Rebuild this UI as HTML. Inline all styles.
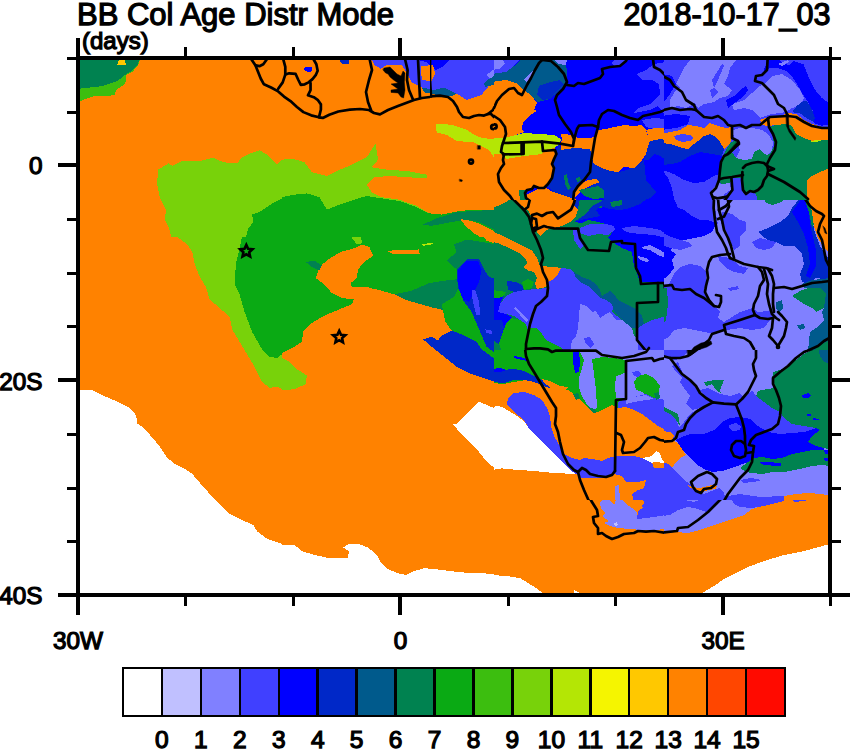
<!DOCTYPE html>
<html><head><meta charset="utf-8"><title>BB Col Age Distr Mode</title>
<style>
html,body{margin:0;padding:0;background:#fff;}
body{width:850px;height:750px;overflow:hidden;position:relative;font-family:"Liberation Sans",sans-serif;color:#000;}
svg{position:absolute;left:0;top:0;}
text{font-family:"Liberation Sans",sans-serif;fill:#000;stroke:#000;stroke-width:1.25px;}
</style></head><body>
<svg width="850" height="750" viewBox="0 0 850 750">
<defs>
<clipPath id="clip"><rect x="78" y="58" width="752" height="537"/></clipPath>
<clipPath id="cA"><rect x="70" y="50" width="212" height="187"/></clipPath>
<clipPath id="cB"><rect x="282" y="50" width="212" height="187"/></clipPath>
<clipPath id="cLB1"><rect x="350" y="50" width="80" height="150"/></clipPath>
<clipPath id="cLB2"><rect x="430" y="50" width="64" height="150"/></clipPath>
<clipPath id="cLA"><rect x="240" y="50" width="110" height="150"/></clipPath>
<clipPath id="cC1"><rect x="494" y="50" width="170" height="150"/></clipPath>
<clipPath id="cC2"><rect x="664" y="50" width="186" height="150"/></clipPath>
<clipPath id="cE"><rect x="70" y="237" width="212" height="187"/></clipPath>
<clipPath id="cF"><rect x="282" y="237" width="212" height="187"/></clipPath>
<clipPath id="cG1"><rect x="494" y="200" width="170" height="150"/></clipPath>
<clipPath id="cG2"><rect x="664" y="200" width="186" height="150"/></clipPath>
<clipPath id="cI"><rect x="70" y="424" width="212" height="187"/></clipPath>
<clipPath id="cJ"><rect x="282" y="424" width="212" height="187"/></clipPath>
<clipPath id="cK1"><rect x="494" y="350" width="170" height="150"/></clipPath>
<clipPath id="cLN"><rect x="494" y="340" width="170" height="22"/></clipPath>
<clipPath id="cK2"><rect x="664" y="350" width="186" height="150"/></clipPath>
<clipPath id="cL1"><rect x="494" y="500" width="170" height="111"/></clipPath>
<clipPath id="cL2"><rect x="664" y="500" width="186" height="111"/></clipPath>
</defs>
<rect x="0" y="0" width="850" height="750" fill="#fff"/>
<g clip-path="url(#clip)">
<rect x="78" y="58" width="752" height="537" fill="#ff8200"/>
<g clip-path="url(#cA)" shape-rendering="crispEdges"><g transform="translate(70,50) scale(0.24941)">
<polygon fill="#3cbe0f" points="40,40 280,40 272,62 250,88 225,100 222,135 185,160 180,180 150,185 95,185 40,205 30,205 30,40"/>
<polygon fill="#008250" points="30,40 278,40 270,60 245,85 220,100 190,125 130,145 40,155 30,155"/>
<polygon fill="#ffc800" points="189,62 197,38 218,38 226,62"/>
<polygon fill="#78d20a" points="352,480 395,455 410,465 450,445 520,445 575,432 600,445 640,455 670,455 690,430 720,415 760,402 790,420 810,440 830,460 850,440 860,440 860,760 410,760 395,710 380,680 385,640 360,590 350,540"/>
<polygon fill="#0aaa14" points="860,590 850,595 820,610 790,630 760,650 730,660 735,690 715,715 705,750 705,760 860,760"/>
</g></g>
<g clip-path="url(#cB)" shape-rendering="crispEdges"><g transform="translate(282,50) scale(0.24941)">
<polygon fill="#78d20a" points="-10,440 0,440 40,435 90,450 120,490 180,505 230,480 270,465 300,450 340,430 375,375 385,440 360,470 420,480 500,485 580,500 580,515 500,510 430,505 370,510 340,540 360,570 400,590 470,600 540,625 590,655 590,760 -10,760"/>
<polygon fill="#0aaa14" points="-10,590 0,590 50,580 100,575 150,590 180,640 230,620 290,600 340,585 400,595 470,605 540,630 590,655 640,660 700,648 760,640 860,640 860,760 -10,760"/>
<polygon fill="#008250" points="565,700 620,675 700,650 780,645 860,640 860,725 850,720 790,690 740,680 680,690 600,705"/>
<polygon fill="#ff8200" points="715,678 760,685 800,700 860,732 860,760 810,760 770,735 735,705"/>
<polygon fill="#4040ff" points="362,40 860,40 860,120 845,125 800,180 740,200 700,175 650,150 610,160 560,150 520,130 500,90 480,60 420,60 395,75 370,60"/>
<polygon fill="#0000ff" points="537,38 673,38 649,64 617,80 601,68 577,48"/>
<polygon fill="#ff8200" points="558,65 605,60 615,95 600,125 560,120"/>
<polygon fill="#005a8c" points="560,150 610,160 650,150 700,175 680,185 620,180 570,170"/>
<polygon fill="#8080ff" points="820,100 860,70 860,120 845,125"/>
<polygon fill="#005a8c" points="809,136 825,120 860,98 860,136 817,148"/>
<polygon fill="#b4e605" points="615,295 680,300 740,320 780,345 800,352 860,360 860,410 850,430 830,400 800,385 770,370 700,365 660,340 620,330"/>
</g></g>
<g clip-path="url(#cLB1)" shape-rendering="crispEdges"><g transform="translate(260,50) scale(0.20000)">
</g></g>
<g clip-path="url(#cLB2)" shape-rendering="crispEdges"><g transform="translate(400,50) scale(0.20000)">
</g></g>
<g clip-path="url(#cLA)" shape-rendering="crispEdges"><g transform="translate(240,50) scale(0.12942)">
<polygon fill="#0000ff" points="495,138 520,130 555,135 555,160 540,170 510,165 497,155"/>
<polygon fill="#0028c8" points="775,78 840,78 840,108 800,112 778,100"/>
</g></g>
<g clip-path="url(#cC1)" shape-rendering="crispEdges"><g transform="translate(494,50) scale(0.20000)">
<rect x="-10" y="-10" width="900" height="800" fill="#0000ff"/>
<polygon fill="#4040ff" points="-10,45 130,45 100,80 60,110 -10,120"/>
<polygon fill="#8080ff" points="-10,50 45,50 55,70 25,95 -10,100"/>
<polygon fill="#005a8c" points="60,110 100,80 130,50 230,50 300,50 360,50 365,130 355,170 330,195 300,225 280,245 240,255 215,260 190,230 150,200 110,165 60,150 -10,160 -10,120"/>
<polygon fill="#8080ff" points="150,150 190,105 200,115 165,160"/>
<polygon fill="#8080ff" points="300,50 365,50 360,75 320,70"/>
<polygon fill="#0028c8" points="225,180 280,160 330,150 350,175 320,200 300,225 280,245 240,250 215,225"/>
<polygon fill="#ff8200" points="-10,160 60,150 110,165 150,200 190,230 215,265 200,300 215,305 180,325 160,350 145,360 140,395 150,410 110,425 60,440 -10,440"/>
<polygon fill="#4040ff" points="600,50 660,50 640,75 600,80 585,65"/>
<polygon fill="#4040ff" points="715,120 760,100 800,70 860,60 860,330 820,280 780,300 700,315 720,290 780,270 830,220 825,170 790,150 740,150"/>
<polygon fill="#4040ff" points="740,350 800,340 860,345 860,410 800,395 760,385"/>
<polygon fill="#b4e605" points="-10,438 60,438 110,425 150,415 300,425 335,445 330,470 300,490 250,500 240,520 150,530 60,545 40,520 -10,520"/>
<polygon fill="#ff8200" points="-10,520 40,520 60,545 150,530 240,520 250,500 300,490 312,500 305,540 290,570 300,600 290,640 260,680 230,690 200,685 160,700 150,720 150,760 -10,760"/>
<polygon fill="#0028c8" points="312,500 330,470 335,500 400,490 480,495 490,540 480,600 470,630 430,670 400,700 390,760 300,760 290,700 260,680 290,640 300,600 290,570 305,540"/>
<polygon fill="#0028c8" points="780,455 800,445 860,440 860,550 830,530 800,520 770,550 750,550 765,500"/>
<polygon fill="#0028c8" points="500,570 540,590 580,605 620,610 650,605 710,580 750,550 755,600 760,650 810,710 780,740 730,760 560,760 520,720 480,700 470,630 480,600 490,540"/>
<polygon fill="#ff8200" points="335,420 400,425 420,440 480,440 510,430 520,400 560,395 600,385 650,375 700,380 740,375 760,400 770,430 780,455 770,480 760,520 740,550 720,570 700,590 650,585 620,610 580,605 540,590 500,570 490,540 480,495 400,490 335,500 335,470 340,445"/>
<polygon fill="#ff8200" points="760,400 800,392 860,390 860,450 830,445 780,455"/>
<polygon fill="#ff8200" points="400,700 430,670 470,650 510,645 530,660 500,670 470,685 440,700 410,730 400,760 390,760"/>
<polygon fill="#ff8200" points="162,723 212,698 262,692 299,711 374,736 411,748 411,760 150,760"/>
<polygon fill="#008250" points="350,625 365,620 370,660 385,690 370,700 355,670"/>
<polygon fill="#008250" points="410,640 430,635 435,655 415,660"/>
<polygon fill="#008250" points="420,700 470,690 520,680 550,700 550,740 500,745 450,730"/>
<polygon fill="#008250" points="125,700 160,700 165,760 130,760"/>
</g></g>
<g clip-path="url(#cC2)" shape-rendering="crispEdges"><g transform="translate(664,50) scale(0.20000)">
<rect x="-10" y="-10" width="900" height="800" fill="#4040ff"/>
<polygon fill="#0000ff" points="-10,120 40,130 60,170 30,220 0,260 -10,260"/>
<polygon fill="#8080ff" points="130,50 360,50 330,90 320,130 300,170 340,200 320,230 280,240 250,260 200,270 170,290 150,260 120,230 90,200 60,170 80,130 100,90"/>
<polygon fill="#8080ff" points="30,250 60,200 100,180 150,200 150,270 110,290 70,280 30,290"/>
<polygon fill="#4040ff" points="240,150 290,70 300,80 270,150 250,190"/>
<polygon fill="#4040ff" points="230,200 250,190 270,210 240,240"/>
<polygon fill="#8080ff" points="340,270 400,250 440,215 470,185 500,170 520,150 540,130 590,120 640,150 680,200 700,240 680,280 640,290 610,310 540,320 480,340 440,300 400,290 350,300"/>
<polygon fill="#0000ff" points="310,250 350,230 380,200 410,180 420,200 400,230 360,260 320,290"/>
<polygon fill="#0000ff" points="521,45 563,45 627,78 648,56 697,71 725,141 754,198 789,240 830,268 830,374 789,378 754,367 740,346 747,311 725,268 697,226 669,177 641,134 612,106 563,88 524,92 507,113 499,99"/>
<polygon fill="#0028c8" points="662,282 697,254 715,258 740,297 754,339 747,360 711,339 683,318 641,311"/>
<polygon fill="#8080ff" points="570,70 620,50 625,60 590,80"/>
<polygon fill="#0000ff" points="-10,330 60,320 130,330 120,370 60,390 -10,400"/>
<polygon fill="#ff8200" points="-10,420 30,410 80,400 120,375 160,380 200,390 230,365 270,380 310,390 340,385 340,440 330,465 300,495 280,460 250,430 230,420 200,430 170,455 150,470 120,495 90,490 60,480 30,470 -10,465"/>
<polygon fill="#4040ff" points="50,430 90,420 130,425 150,440 130,455 90,460 60,450"/>
<polygon fill="#0028c8" points="-10,465 30,470 60,480 90,490 120,495 150,470 170,455 200,430 230,420 250,430 280,460 300,495 290,530 240,520 180,510 130,530 80,560 40,570 -10,575"/>
<polygon fill="#0000ff" points="-10,575 40,570 80,560 130,530 180,510 240,520 290,530 280,570 275,620 250,630 200,660 150,665 100,650 50,620 -10,600"/>
<polygon fill="#0000ff" points="-10,600 20,640 40,690 50,740 55,760 -10,760"/>
<polygon fill="#ff8200" points="480,350 510,340 560,340 620,315 660,320 700,350 740,370 790,385 830,395 830,450 790,450 740,455 700,440 660,420 640,380 610,370 560,375 520,380 490,375"/>
<polygon fill="#008250" points="330,465 350,455 375,460 360,490 340,510 360,540 400,550 440,545 450,510 480,495 500,520 530,520 550,480 545,430 525,385 560,375 610,370 640,380 660,420 700,440 740,455 830,450 830,590 780,610 740,630 715,650 715,760 470,760 460,720 430,710 400,720 390,690 385,640 340,640 330,665 290,670 270,660 280,600 290,540 310,500"/>
<polygon fill="#8080ff" points="345,400 400,385 440,390 490,400 520,420 545,460 540,500 520,525 500,520 480,495 450,510 440,545 400,550 360,540 380,500 370,470 350,450"/>
<polygon fill="#ff8200" points="715,650 740,630 780,610 830,590 830,760 715,760"/>
<polygon fill="#b4e605" points="730,455 780,448 785,455 740,462"/>
<polygon fill="#8080ff" points="240,700 270,665 290,670 330,665 335,700 300,720 290,760 240,760"/>
</g></g>
<g clip-path="url(#cE)" shape-rendering="crispEdges"><g transform="translate(70,237) scale(0.24941)">
<polygon fill="#78d20a" points="430,-10 430,0 470,30 490,60 500,110 520,160 545,200 560,250 600,285 640,320 650,370 680,420 710,470 740,520 770,580 800,605 830,600 850,610 860,610 860,-10"/>
<polygon fill="#0aaa14" points="690,-10 690,0 665,110 660,190 680,230 700,300 730,380 770,450 800,480 830,485 850,470 860,470 860,-10"/>
<polygon fill="#ffffff" points="30,612 90,615 130,635 190,660 240,685 265,715 270,750 270,760 30,760"/>
</g></g>
<g clip-path="url(#cF)" shape-rendering="crispEdges"><g transform="translate(282,237) scale(0.24941)">
<polygon fill="#0aaa14" points="-10,-10 860,-10 860,490 850,490 800,450 780,420 730,395 680,375 655,340 645,290 600,280 540,265 490,250 450,230 380,210 345,215 290,245 280,270 230,290 170,315 120,345 85,380 80,420 50,440 0,465 -10,468"/>
<polygon fill="#ff8200" points="290,250 240,245 200,225 170,190 135,165 150,120 185,90 235,60 290,45 320,30 350,40 365,75 330,100 305,130 300,165 275,185 280,200 340,200 380,212 345,220"/>
<polygon fill="#008250" points="450,230 520,215 590,185 650,175 700,170 710,200 690,240 640,270 645,292 600,282 540,265 490,250"/>
<polygon fill="#008250" points="690,30 740,10 800,20 860,30 860,170 830,160 810,130 790,90 740,90 700,130 660,95 700,60"/>
<polygon fill="#008250" points="95,100 130,95 160,115 150,135 120,120"/>
<polygon fill="#0028c8" points="700,130 740,90 790,90 810,130 830,160 860,170 860,470 820,440 790,370 760,300 730,260 705,200"/>
<polygon fill="#0000ff" points="705,135 740,95 785,95 800,130 790,180 770,220 750,260 725,250 708,200"/>
<polygon fill="#4040ff" points="760,215 775,212 790,260 795,310 780,315 765,260"/>
<polygon fill="#4040ff" points="815,370 840,375 845,390 820,385"/>
<polygon fill="#0028c8" points="565,410 600,400 625,415 640,395 680,375 730,395 780,420 800,450 860,495 860,585 850,580 760,550 700,520 650,480 600,440"/>
<polygon fill="#ff8200" points="800,-10 860,-10 860,28 850,25 820,15"/>
<polygon fill="#ff8200" points="420,55 550,50 552,70 450,70"/>
<polygon fill="#b4e605" points="560,30 605,22 607,28 565,36"/>
<polygon fill="#78d20a" points="-10,485 0,485 30,500 60,530 100,555 95,590 50,610 0,615 -10,615"/>
<polygon fill="#78d20a" points="270,-10 312,-10 322,25 300,30"/>
<polygon fill="#ffffff" points="700,760 700,750 760,690 790,660 860,690 860,760"/>
</g></g>
<g clip-path="url(#cG1)" shape-rendering="crispEdges"><g transform="translate(494,200) scale(0.20000)">
<rect x="-10" y="-10" width="900" height="800" fill="#008250"/>
<polygon fill="#ff8200" points="90,-10 400,-10 400,30 420,45 410,80 380,110 340,130 300,140 260,150 230,180 215,160 200,140 190,110 185,80 170,50 140,30 110,10"/>
<polygon fill="#ff8200" points="-10,158 30,172 80,197 140,228 190,253 215,290 230,330 300,335 335,340 320,370 300,395 270,410 260,435 215,445 205,420 215,390 200,360 170,352 148,338 165,315 160,295 130,268 70,238 20,215 -10,210"/>
<polygon fill="#ff8200" points="-10,-10 90,-10 60,10 30,25 -10,40"/>
<polygon fill="#4040ff" points="335,340 380,345 400,360 450,390 480,400 510,420 530,450 540,480 580,455 600,470 600,520 590,560 640,600 690,640 700,680 720,700 720,760 150,760 165,690 180,640 190,600 200,550 220,510 260,480 265,440 270,410 300,395 320,370"/>
<polygon fill="#4040ff" points="265,440 215,445 150,450 100,460 60,480 30,520 20,560 60,570 100,580 130,600 160,620 170,650 180,640 190,600 200,550 220,510 260,480"/>
<polygon fill="#8080ff" points="430,520 460,530 490,560 510,555 530,590 560,570 580,560 610,600 640,600 690,640 700,680 720,700 720,760 380,760 390,700 410,680 420,640 425,580"/>
<polygon fill="#4040ff" points="450,690 480,685 500,720 480,740 460,720"/>
<polygon fill="#005a8c" points="400,360 450,390 480,400 510,420 530,450 540,480 580,455 600,470 620,500 660,520 700,540 740,580 750,620 720,640 690,640 640,600 600,560 590,520 560,500 530,490 500,460 470,430 430,410 410,390"/>
<polygon fill="#4040ff" points="720,640 750,620 790,600 830,590 860,580 860,760 720,760"/>
<polygon fill="#0000ff" points="500,60 520,40 600,30 640,-10 860,-10 860,420 840,410 730,410 720,380 700,330 690,260 640,240 600,215 570,190 600,150 560,120 520,110 470,100 440,115 400,110 420,90 460,70"/>
<polygon fill="#4040ff" points="430,140 480,120 560,120 600,130 605,150 570,175 520,170 470,180 430,165"/>
<polygon fill="#4040ff" points="640,140 700,130 780,140 830,150 860,170 860,190 800,175 740,170 680,165 650,155"/>
<polygon fill="#8080ff" points="740,235 780,225 830,250 860,270 860,290 820,275 780,250 745,245"/>
<polygon fill="#8080ff" points="720,280 760,290 780,305 760,310 725,295"/>
<polygon fill="#0028c8" points="400,-10 770,-10 730,20 680,40 630,50 580,45 530,30 510,50 530,80 480,90 430,100 400,110 380,110 410,80 420,45 400,30"/>
<polygon fill="#008250" points="430,-10 560,-10 530,10 490,30 460,70 430,90 400,110 380,110 410,80 420,45"/>
<polygon fill="#008250" points="580,10 640,0 640,25 590,35"/>
<polygon fill="#4040ff" points="395,150 420,150 430,190 450,230 430,245 400,200"/>
<polygon fill="#0aaa14" points="40,670 60,620 80,590 130,600 160,620 170,650 165,690 150,760 40,760 25,720"/>
<polygon fill="#0aaa14" points="165,690 180,640 215,640 240,670 260,700 300,720 340,740 350,760 150,760"/>
<polygon fill="#0aaa14" points="140,410 170,395 200,410 190,440 150,450"/>
<polygon fill="#0aaa14" points="-10,450 30,455 60,460 50,480 20,490 -10,490"/>
<polygon fill="#0028c8" points="65,405 110,410 140,425 150,450 100,460 70,450"/>
<polygon fill="#0000ff" points="-10,490 20,490 50,480 30,520 20,560 60,570 90,585 60,620 40,670 25,720 -10,700"/>
<polygon fill="#0028c8" points="-10,600 40,600 50,640 40,670 25,720 -10,700"/>
<polygon fill="#8080ff" points="100,540 110,535 170,600 160,610"/>
</g></g>
<g clip-path="url(#cG2)" shape-rendering="crispEdges"><g transform="translate(664,200) scale(0.20000)">
<rect x="-10" y="-10" width="900" height="800" fill="#8080ff"/>
<polygon fill="#0000ff" points="-10,-10 250,-10 255,60 260,120 240,160 200,180 150,190 100,200 60,230 30,250 -10,250"/>
<polygon fill="#4040ff" points="50,-10 230,-10 250,10 260,70 270,120 220,100 180,100 140,80 100,50 70,40"/>
<polygon fill="#4040ff" points="-10,165 50,190 120,210 140,230 80,250 30,240 -10,225"/>
<polygon fill="#4040ff" points="-10,440 25,420 50,370 80,335 130,320 180,330 210,360 210,420 200,450 230,500 260,540 280,560 270,590 300,610 380,560 440,540 470,560 520,560 530,600 500,640 440,650 380,640 310,650 260,670 200,660 150,650 100,640 50,650 20,690 -10,700"/>
<polygon fill="#0000ff" points="-10,250 30,250 60,270 40,300 50,340 20,380 -10,400"/>
<polygon fill="#4040ff" points="270,280 330,290 380,330 420,340 400,370 350,360 310,340 280,310"/>
<polygon fill="#4040ff" points="320,440 370,430 375,445 330,455"/>
<polygon fill="#4040ff" points="290,60 340,70 380,100 410,110 410,150 380,180 380,230 350,250 330,200 300,150 280,100"/>
<polygon fill="#0028c8" points="470,160 520,140 580,110 620,80 640,40 680,-10 720,-10 740,60 750,150 780,230 820,290 830,320 830,400 760,390 720,420 690,410 680,370 700,320 690,270 650,230 600,230 560,210 520,200 490,180"/>
<polygon fill="#0000ff" points="640,60 690,-10 720,20 730,120 760,250 760,330 730,390 710,380 730,320 720,240 700,170 670,110"/>
<polygon fill="#4040ff" points="440,210 480,190 520,200 560,210 540,240 500,250 460,240"/>
<polygon fill="#008250" points="500,-10 600,-10 590,10 540,25 510,15"/>
<polygon fill="#008250" points="700,-10 730,-10 740,60 750,120 740,140 725,60"/>
<polygon fill="#ff8200" points="720,-10 830,-10 830,270 800,240 770,190 750,130 740,60"/>
<polygon fill="#005a8c" points="690,420 740,400 830,390 830,760 720,760 725,700 730,660 760,640 800,600 790,560 800,540 810,470 780,440 740,440 700,440"/>
<polygon fill="#008250" points="640,480 680,455 720,440 780,440 810,470 800,540 760,560 740,540 700,520 670,500"/>
<polygon fill="#005a8c" points="560,510 590,500 595,540 575,560 560,540"/>
<polygon fill="#005a8c" points="665,625 700,620 705,640 680,650"/>
<polygon fill="#008250" points="-10,440 15,440 20,520 10,600 -10,620"/>
<polygon fill="#008250" points="830,700 800,715 770,735 740,760 830,760"/>
<polygon fill="#4040ff" points="480,560 540,550 550,590 520,600 480,590"/>
</g></g>
<g clip-path="url(#cI)" shape-rendering="crispEdges"><g transform="translate(70,424) scale(0.24941)">
<polygon fill="#ffffff" points="30,-10 275,-10 275,0 300,20 330,55 360,90 390,135 420,160 460,180 490,200 520,235 560,280 600,320 640,360 690,385 735,405 750,430 790,460 850,480 860,482 860,760 30,760"/>
</g></g>
<g clip-path="url(#cJ)" shape-rendering="crispEdges"><g transform="translate(282,424) scale(0.24941)">
<polygon fill="#ffffff" points="-10,485 50,485 80,510 130,525 190,538 265,538 268,510 245,495 265,482 310,482 345,495 380,525 395,555 420,580 470,600 500,605 530,590 570,578 640,585 720,595 800,598 860,603 860,760 -10,760"/>
<polygon fill="#ffffff" points="685,-10 685,0 710,30 740,60 780,100 820,150 850,175 860,180 860,-10"/>
</g></g>
<g clip-path="url(#cK1)" shape-rendering="crispEdges"><g transform="translate(494,350) scale(0.20000)">
<rect x="-10" y="-10" width="900" height="800" fill="#ff8200"/>
<polygon fill="#0aaa14" points="-10,-10 860,-10 860,250 820,250 800,230 780,290 740,300 700,290 660,280 620,290 590,275 560,290 520,310 490,300 460,280 430,250 400,220 370,200 330,190 280,170 240,150 200,150 160,150 100,160 50,170 -10,165"/>
<polygon fill="#0028c8" points="-10,105 40,100 100,95 150,105 200,130 240,150 260,170 290,195 250,180 200,160 150,150 100,150 50,165 -10,160"/>
<polygon fill="#0000ff" points="100,30 150,40 170,55 140,50 100,40"/>
<polygon fill="#0000ff" points="-10,95 30,90 60,100 30,110 -10,110"/>
<polygon fill="#ff8200" points="240,145 280,155 330,180 370,185 360,200 320,200 280,185 250,165"/>
<polygon fill="#0000ff" points="395,10 425,10 430,60 425,110 405,115 395,60"/>
<polygon fill="#8080ff" points="420,-10 660,-10 660,50 600,40 540,35 490,45 450,50"/>
<polygon fill="#8080ff" points="450,50 490,45 500,120 510,200 515,290 500,300 470,280 440,230 425,190 425,140 440,90"/>
<polygon fill="#8080ff" points="610,130 640,120 660,110 660,240 610,240 605,180"/>
<polygon fill="#8080ff" points="660,-10 860,-10 860,250 820,250 800,240 700,235 660,245"/>
<polygon fill="#0aaa14" points="720,130 760,120 800,140 830,180 820,230 800,240 770,230 740,210 710,200 700,160"/>
<polygon fill="#4040ff" points="690,110 720,105 740,120 720,135 700,130"/>
<polygon fill="#4040ff" points="620,260 660,245 700,235 760,220 800,240 860,250 860,400 820,380 780,350 740,320 700,300 660,285 620,290"/>
<polygon fill="#8080ff" points="660,245 700,235 760,225 800,245 760,250 700,260 660,270"/>
<polygon fill="#008250" points="395,220 420,215 430,240 410,250"/>
<polygon fill="#008250" points="470,285 500,295 520,310 500,315 480,300"/>
<polygon fill="#008250" points="800,215 825,210 830,240 810,250"/>
<polygon fill="#4040ff" points="70,240 100,215 150,210 200,225 240,250 265,290 280,330 285,380 300,430 330,480 350,520 390,540 430,550 450,540 490,545 540,555 570,540 610,530 700,530 740,540 790,560 800,590 860,590 860,760 700,760 690,720 720,700 750,690 760,650 720,660 660,660 640,630 600,620 540,640 480,640 440,640 410,620 380,600 340,560 300,520 260,480 220,440 180,400 150,350 100,310 65,270"/>
<polygon fill="#8080ff" points="605,680 625,675 630,750 605,750"/>
<polygon fill="#ffffff" points="-10,285 20,280 50,290 100,320 150,355 180,400 220,440 260,480 300,520 340,560 380,600 410,620 300,615 200,605 100,598 40,592 -10,600"/>
<polygon fill="#ffffff" points="740,540 790,530 810,505 830,515 840,550 860,560 860,565 800,560 790,565"/>
</g></g>
<g clip-path="url(#cLN)" shape-rendering="crispEdges"><g transform="translate(494,350) scale(0.20000)">
</g></g>
<g clip-path="url(#cK2)" shape-rendering="crispEdges"><g transform="translate(664,350) scale(0.20000)">
<rect x="-10" y="-10" width="900" height="800" fill="#8080ff"/>
<polygon fill="#4040ff" points="40,440 60,400 100,360 130,320 180,290 240,268 300,270 360,275 400,240 440,200 460,230 500,260 540,290 580,310 600,340 640,370 700,380 760,390 700,410 640,415 580,420 520,410 470,380 430,345 380,335 330,340 290,360 250,400 200,420 130,420 100,430 60,450"/>
<polygon fill="#4040ff" points="70,60 100,130 150,160 180,210 210,240 240,268 180,290 140,300 110,270 130,230 100,190 80,160 90,140 60,110 40,80"/>
<polygon fill="#4040ff" points="-10,-10 130,-10 100,30 60,50 30,45 -10,30"/>
<polygon fill="#4040ff" points="180,200 220,190 280,220 330,230 380,215 400,240 360,275 300,270 240,268 210,240"/>
<polygon fill="#0000ff" points="60,450 100,430 130,420 200,420 250,400 290,360 330,340 380,335 430,345 470,380 520,410 580,420 640,415 700,410 760,390 780,400 740,430 720,460 760,480 800,490 800,500 740,500 690,510 640,520 590,540 540,545 490,535 450,540 420,560 380,575 340,590 290,605 240,610 200,595 160,570 130,540 100,510 80,480"/>
<polygon fill="#4040ff" points="325,375 360,365 385,380 380,400 345,405 325,390"/>
<polygon fill="#008250" points="545,110 580,100 620,80 660,50 700,20 740,0 780,-10 830,-10 830,500 800,490 760,480 720,460 740,430 780,400 760,390 700,380 640,370 600,340 580,310 540,290 500,260 460,230 470,205 520,195 545,190 540,150"/>
<polygon fill="#005a8c" points="770,-10 830,-10 830,70 800,60 780,30"/>
<polygon fill="#0000ff" points="690,225 720,215 735,225 720,240 695,240"/>
<polygon fill="#0000ff" points="715,320 735,320 735,330 715,330"/>
<polygon fill="#0000ff" points="745,340 775,345 775,350 745,348"/>
<polygon fill="#008250" points="380,590 420,560 450,540 490,535 540,545 590,540 640,520 690,510 740,500 800,500 830,505 830,580 790,575 740,580 700,590 650,600 600,610 540,610 490,620 440,615 410,610"/>
<polygon fill="#0000ff" points="480,560 540,562 585,565 585,580 540,578 490,572"/>
<polygon fill="#0000ff" points="800,500 830,500 830,525 805,520"/>
<polygon fill="#0000ff" points="800,540 825,540 825,555 800,552"/>
<polygon fill="#008250" points="200,160 250,150 300,150 290,175 280,200 285,215 260,200 240,170 210,180"/>
<polygon fill="#008250" points="-10,280 30,300 70,320 80,380 60,350 30,320 -10,300"/>
<polygon fill="#4040ff" points="-10,300 30,320 60,350 80,395 50,420 40,450 30,410 -10,405"/>
<polygon fill="#ff8200" points="-10,405 30,410 50,430 40,450 60,460 80,480 100,510 110,525 80,540 60,560 40,590 20,570 -10,560"/>
<polygon fill="#4040ff" points="-10,560 20,570 40,590 70,620 100,650 130,670 160,700 200,720 250,700 275,690 300,715 310,760 -10,760"/>
<polygon fill="#ff8200" points="110,670 140,685 180,690 240,675 265,680 260,695 220,700 190,710 160,700 130,690"/>
<polygon fill="#4040ff" points="320,730 380,720 480,735 600,730 610,745 560,760 300,760"/>
<polygon fill="#ff8200" points="600,730 660,720 720,715 790,720 830,730 830,760 600,760"/>
<polygon fill="#4040ff" points="380,650 430,640 470,645 480,655 440,660 400,665"/>
</g></g>
<g clip-path="url(#cL1)" shape-rendering="crispEdges"><g transform="translate(494,470) scale(0.20000)">
<rect x="-10" y="-10" width="900" height="800" fill="#ff8200"/>
<polygon fill="#4040ff" points="690,130 745,135 750,170 735,180 745,190 720,205 715,245 760,240 800,235 860,225 860,100 745,95 690,100"/>
<polygon fill="#8080ff" points="530,165 550,140 580,150 600,175 610,150 605,85 625,80 630,130 660,170 690,190 715,210 715,245 760,240 800,235 860,225 860,295 800,300 740,300 680,295 620,290 580,280 550,265 575,255 540,230 560,215 535,195"/>
<polygon fill="#c0c0ff" points="600,265 615,262 620,275 605,280"/>
<polygon fill="#ffffff" points="-10,525 60,530 130,540 170,565 210,590 245,615 245,640 -10,640"/>
<polygon fill="#ffffff" points="400,600 430,615 430,640 400,640"/>
</g></g>
<g clip-path="url(#cL2)" shape-rendering="crispEdges"><g transform="translate(664,470) scale(0.20000)">
<rect x="-10" y="-10" width="900" height="800" fill="#ff8200"/>
<polygon fill="#8080ff" points="-10,-10 830,-10 830,130 800,135 750,125 700,120 640,125 600,130 560,160 500,175 440,195 400,225 340,245 280,265 220,285 160,305 120,315 60,310 -10,320"/>
<polygon fill="#4040ff" points="-10,100 50,110 100,150 150,160 200,140 240,110 280,100 300,120 280,150 250,175 210,210 170,195 120,185 70,200 30,225 -10,230"/>
<polygon fill="#4040ff" points="340,150 400,145 460,140 520,130 580,125 610,135 600,155 560,165 500,180 440,190 380,185 350,170"/>
<polygon fill="#4040ff" points="760,100 800,85 830,85 830,130 800,135 770,125"/>
<polygon fill="#4040ff" points="640,140 700,135 740,130 745,145 700,155 650,160"/>
<polygon fill="#ffffff" points="190,615 250,580 300,545 360,515 420,485 500,455 600,425 700,405 830,370 830,640 190,640"/>
</g></g>
<g clip-path="url(#cLB1)"><g transform="translate(260,50) scale(0.20000)" fill="none" stroke="#000" stroke-width="13.50" stroke-linejoin="round" stroke-linecap="round">
<polyline points="0,130 30,165 60,185 95,200 130,230 170,260 215,295 260,320 300,340 320,340 350,325 400,308 450,298 500,295 545,300 570,315 600,322 640,300 690,280 730,265 770,250 810,240 850,235"/>
<polyline points="0,62 20,70 28,50"/>
<polyline points="112,45 118,55 125,80 130,120 120,150 105,175 95,198"/>
<polyline points="128,125 150,115 185,100 200,140 215,175 240,165 265,140 285,110 280,70 270,45"/>
<polyline points="245,170 250,190 245,225 270,240 295,265 305,300 300,340"/>
<polyline points="548,45 560,100 545,150 530,210 540,260 555,300"/>
<polyline points="725,45 738,100 735,150 745,200 765,248"/>
<polyline points="790,45 795,150 800,240"/>
<polygon fill="#000" stroke-width="2" points="620,90 650,85 665,100 685,120 705,130 715,105 725,115 722,160 725,200 718,240 705,235 690,215 655,212 655,200 690,195 672,182 655,170 690,165 668,150 650,135 640,120 628,115 615,100"/>
</g></g>
<g clip-path="url(#cLB2)"><g transform="translate(400,50) scale(0.20000)" fill="none" stroke="#000" stroke-width="13.50" stroke-linejoin="round" stroke-linecap="round">
<polyline points="150,232 200,228 240,235 265,255 285,285 295,310 315,335 345,340 370,330 395,325 420,328 440,320 455,320 470,335 490,350"/>
<polyline points="150,45 150,150 155,232"/>
<polyline points="440,320 465,300 472,285"/>
<polygon fill="#000" stroke-width="2" points="388,478 402,478 402,496 388,496"/>
<polygon fill="#000" stroke-width="2" points="298,646 312,650 310,658 298,656"/>
<circle cx="467" cy="385" r="11"/>
<circle cx="355" cy="558" r="10"/>
</g></g>
<g clip-path="url(#cLA)"><g transform="translate(240,50) scale(0.12942)" fill="none" stroke="#000" stroke-width="20.86" stroke-linejoin="round" stroke-linecap="round">
<polyline points="90,75 120,120 140,170 160,220 185,265 240,290 295,320 340,360 390,395 440,440 490,480 550,505 610,520 640,525 690,500 760,475 850,460"/>
<polyline points="120,118 150,125 180,110 205,75"/>
<polyline points="335,75 350,130 350,190 330,250 295,300"/>
<polyline points="350,190 380,180 430,185 450,230 470,270 500,265 530,250 560,225 585,195 600,160 590,110 570,75"/>
<polyline points="545,255 545,310 525,350 570,365 600,385 625,420 625,460 610,520"/>
</g></g>
<g clip-path="url(#cC1)"><g transform="translate(494,50) scale(0.20000)" fill="none" stroke="#000" stroke-width="13.50" stroke-linejoin="round" stroke-linecap="round">
<polyline points="0,290 15,255 40,225 75,195 100,190 120,215 140,225 150,205 165,175 185,140 205,100 225,65 240,50"/>
<polyline points="0,330 30,350 55,385 60,420 50,450 40,480 35,510 50,520 45,550 50,570 35,590 20,620 25,660 50,700 80,730 100,760"/>
<polyline points="45,465 140,462 240,458 330,468 395,480"/>
<polyline points="45,522 148,520 148,462"/>
<polyline points="138,462 138,520"/>
<polyline points="240,50 285,55 320,85 350,120 365,160 345,195 315,225 305,250 315,285 325,325 355,370 385,410 400,445 395,480 405,430 415,395 425,378 490,375 520,385 525,350 540,320 570,300 600,305 640,325 680,340 720,350 745,330 790,320 830,310 860,298"/>
<polyline points="520,385 505,440 495,500 485,560 480,610 450,650 420,680 400,710 395,760"/>
<polyline points="365,175 400,180 420,165 450,170 490,155 530,140 545,120 540,95 580,85 630,80 660,55 665,45"/>
<polyline points="795,45 800,85 830,100 860,130"/>
<polyline points="240,458 245,505 305,500 312,520 300,545 290,570 300,590 290,640 270,670 250,690 225,690 200,680 190,695 165,700 155,715 160,740 180,755"/>
<circle cx="3" cy="382" r="10"/>
</g></g>
<g clip-path="url(#cC2)"><g transform="translate(664,50) scale(0.20000)" fill="none" stroke="#000" stroke-width="13.50" stroke-linejoin="round" stroke-linecap="round">
<polyline points="-5,130 30,150 50,180 90,210 110,250 150,275 160,300"/>
<polyline points="-5,300 40,290 80,300 130,295 160,300 200,335 240,340 270,330 300,350 320,375 340,380 380,375 410,390 440,375 480,375 510,350 530,335 620,330"/>
<polyline points="340,380 340,440 370,455 375,470 340,500 320,520 300,530 285,560 280,600 275,650 260,690 235,715 245,740 250,760"/>
<polyline points="518,45 515,100 490,125 460,130 455,155 490,165 520,195 550,225 570,270 600,290 615,320 620,330 660,335 700,360 740,380 790,390 830,390"/>
<polyline points="520,340 525,385 545,420 560,460 555,500 530,540 515,570 520,600"/>
<polyline points="395,590 410,575 440,565 470,560 500,565 515,580 550,595 520,605 515,630 500,650 490,680 470,700 450,710 430,705 410,720 395,700 390,650 392,610"/>
<polyline points="395,625 340,635 300,640 280,645"/>
<polyline points="520,620 600,660 680,710 720,745"/>
<polyline points="337,640 342,700 317,733 300,760"/>
<polyline points="317,733 267,742 245,735"/>
<polygon fill="#000" stroke-width="2" points="372,452 380,462 330,520 318,515"/>
<polygon fill="#000" stroke-width="2" points="610,320 622,322 625,390 660,440 655,452 625,410 612,380"/>
</g></g>
<g clip-path="url(#cG1)"><g transform="translate(494,200) scale(0.20000)" fill="none" stroke="#000" stroke-width="13.50" stroke-linejoin="round" stroke-linecap="round">
<polyline points="90,-10 120,20 150,50 175,85 185,120 195,160 215,200 235,250 245,290 235,320 245,360 265,400 270,440 265,480 235,510 210,530 195,570 180,620 170,670 160,720 160,760"/>
<polyline points="150,50 170,35 180,-5"/>
<polyline points="185,120 190,90 190,75 215,68 240,80 265,65 295,60 320,92 350,72 385,48 400,15 405,-5"/>
<polyline points="190,90 210,95 215,135 200,140 205,155"/>
<polyline points="205,150 250,130 265,135 300,142 420,143 430,190 470,250 575,255 585,210 640,205 640,215 705,220 710,340 730,380 735,420 820,415 820,510 715,515 715,700 760,755"/>
<polyline points="820,415 850,415 855,440"/>
</g></g>
<g clip-path="url(#cG2)"><g transform="translate(664,200) scale(0.20000)" fill="none" stroke="#000" stroke-width="13.50" stroke-linejoin="round" stroke-linecap="round">
<polyline points="250,-10 248,40 255,100 265,160 290,200 310,240 320,270 330,290"/>
<polyline points="270,-10 275,50 290,100 300,150 320,190 335,230 345,270 350,290"/>
<polyline points="275,50 310,30 340,-5"/>
<polyline points="317,-17 325,33 300,83 270,95"/>
<polyline points="330,270 280,275 240,285 225,310 215,350 220,390 210,430 205,460 225,500 250,530 275,535 285,510 285,480 260,475"/>
<polyline points="-5,430 40,425 50,445 90,450 130,445 160,470 200,490 225,510 250,530"/>
<polyline points="330,290 400,320 470,335 510,340 540,350"/>
<polyline points="470,335 490,360 500,400 480,430 470,480 450,520 445,550 455,575 480,590 520,595 545,590"/>
<polyline points="500,345 510,380 520,420 515,470 525,520 540,570 560,590 575,600"/>
<polyline points="520,345 540,380 550,420 545,470 545,520 550,560"/>
<polyline points="545,590 540,640 525,680 545,700 570,730 600,680 610,640 615,610 590,580 570,560"/>
<polyline points="550,440 600,435 640,445 690,430 740,415 790,410 830,405"/>
<polyline points="455,575 380,600 300,625 310,670 350,680 400,690 430,710 450,745"/>
<polyline points="300,650 240,670 225,700 200,720 160,750"/>
<polyline points="835,685 800,705 770,730 720,752 700,768"/>
<polyline points="705,-5 730,30 760,55 790,70 800,80 780,120 770,160 790,200 800,250 810,300 830,340"/>
<polygon fill="#000" stroke-width="2" points="795,130 805,140 815,170 805,165"/>
<polygon fill="#000" stroke-width="2" points="130,760 150,735 185,715 235,705 240,720 215,735 185,745 160,765"/>
<circle cx="570" cy="735" r="5"/>
</g></g>
<g clip-path="url(#cK1)"><g transform="translate(494,350) scale(0.20000)" fill="none" stroke="#000" stroke-width="13.50" stroke-linejoin="round" stroke-linecap="round">
<polyline points="155,-10 160,30 175,70 200,110 230,160 260,210 290,260 310,290 310,330 305,370 320,410 330,460 345,520 370,570 400,600 420,610 440,590 460,600 480,620 520,630 560,635 590,625 605,605"/>
<polyline points="420,610 430,650 450,700 470,745 480,765"/>
<polyline points="605,605 610,250 660,245 660,60"/>
<polyline points="660,55 790,40 800,55 830,45 860,40"/>
<polyline points="612,415 635,425 650,460 640,500 645,515 700,510 730,490 755,460 770,440 800,435 830,450 860,455"/>
</g></g>
<g clip-path="url(#cLN)"><g transform="translate(494,350) scale(0.20000)" fill="none" stroke="#000" stroke-width="13.50" stroke-linejoin="round" stroke-linecap="round">
<polyline points="160,-5 200,-8 230,-8 270,-3 290,10 310,3 400,3 510,3 540,25 640,40 700,30 760,10 775,-10"/>
</g></g>
<g clip-path="url(#cK2)"><g transform="translate(664,350) scale(0.20000)" fill="none" stroke="#000" stroke-width="13.50" stroke-linejoin="round" stroke-linecap="round">
<polyline points="-5,30 30,40 80,40 120,30 150,10 170,-5"/>
<polyline points="30,40 60,80 90,120 130,150 160,180 180,215 210,240 245,262"/>
<polyline points="245,262 200,285 160,310 130,340 110,370 100,400 70,410 60,440 40,455 -5,458"/>
<polyline points="245,262 300,268 360,272"/>
<polyline points="460,-5 460,40 445,70 450,100 460,130 440,170 420,210 390,245 360,272"/>
<polyline points="360,272 375,310 390,350 400,390 405,430 405,470"/>
<polyline points="405,470 385,455 360,455 340,475 335,500 350,530 380,540 405,530 410,500 405,470"/>
<polyline points="740,-5 700,10 660,40 620,80 580,110 545,140 545,170 560,200 575,240 585,280 580,330 570,370 540,395 500,410 460,425 435,450 425,475 450,480 445,510 415,515"/>
<polyline points="445,510 440,560 420,600 380,640 350,680 320,720 300,755"/>
<polyline points="135,660 170,630 215,610 240,620 265,645 260,670 235,690 200,695 185,715 160,705 145,685 135,660"/>
<polygon fill="#000" stroke-width="2" points="115,-10 160,-10 150,15 130,30 118,25"/>
</g></g>
<g clip-path="url(#cL1)"><g transform="translate(494,470) scale(0.20000)" fill="none" stroke="#000" stroke-width="13.50" stroke-linejoin="round" stroke-linecap="round">
<polyline points="390,-5 420,20 440,60 460,110 490,160 515,200 520,230 495,235 500,265 520,290 520,320 540,315 560,330 590,345 620,335 650,320 700,315 720,305 760,308 800,305 830,310 860,315"/>
</g></g>
<g clip-path="url(#cL2)"><g transform="translate(664,470) scale(0.20000)" fill="none" stroke="#000" stroke-width="13.50" stroke-linejoin="round" stroke-linecap="round">
<polyline points="400,-5 370,30 340,80 300,130 260,170 220,210 170,250 120,285 70,290 65,305 0,312 -5,312"/>
</g></g>
</g>
<polygon points="246.3,244.9 248.1,248.9 252.4,249.3 249.2,252.2 250.1,256.5 246.3,254.3 242.5,256.5 243.4,252.2 240.2,249.3 244.5,248.9" fill="none" stroke="#000" stroke-width="2.6" stroke-linejoin="miter"/>
<polygon points="339.2,330.8 341.0,334.8 345.3,335.2 342.1,338.1 343.0,342.4 339.2,340.2 335.4,342.4 336.3,338.1 333.1,335.2 337.4,334.8" fill="none" stroke="#000" stroke-width="2.6" stroke-linejoin="miter"/>
<g stroke="#000" fill="none" shape-rendering="crispEdges">
<rect x="78" y="58" width="752" height="537" stroke-width="4"/>
<line x1="78" y1="58" x2="78" y2="38" stroke-width="4"/>
<line x1="78" y1="595" x2="78" y2="615" stroke-width="4"/>
<line x1="185" y1="58" x2="185" y2="47" stroke-width="3"/>
<line x1="185" y1="595" x2="185" y2="606" stroke-width="3"/>
<line x1="293" y1="58" x2="293" y2="47" stroke-width="3"/>
<line x1="293" y1="595" x2="293" y2="606" stroke-width="3"/>
<line x1="400" y1="58" x2="400" y2="38" stroke-width="4"/>
<line x1="400" y1="595" x2="400" y2="615" stroke-width="4"/>
<line x1="508" y1="58" x2="508" y2="47" stroke-width="3"/>
<line x1="508" y1="595" x2="508" y2="606" stroke-width="3"/>
<line x1="615" y1="58" x2="615" y2="47" stroke-width="3"/>
<line x1="615" y1="595" x2="615" y2="606" stroke-width="3"/>
<line x1="723" y1="58" x2="723" y2="38" stroke-width="4"/>
<line x1="723" y1="595" x2="723" y2="615" stroke-width="4"/>
<line x1="830" y1="58" x2="830" y2="47" stroke-width="3"/>
<line x1="830" y1="595" x2="830" y2="606" stroke-width="3"/>
<line x1="78" y1="595" x2="58" y2="595" stroke-width="4"/>
<line x1="830" y1="595" x2="850" y2="595" stroke-width="4"/>
<line x1="78" y1="541" x2="67" y2="541" stroke-width="3"/>
<line x1="830" y1="541" x2="841" y2="541" stroke-width="3"/>
<line x1="78" y1="488" x2="67" y2="488" stroke-width="3"/>
<line x1="830" y1="488" x2="841" y2="488" stroke-width="3"/>
<line x1="78" y1="434" x2="67" y2="434" stroke-width="3"/>
<line x1="830" y1="434" x2="841" y2="434" stroke-width="3"/>
<line x1="78" y1="380" x2="58" y2="380" stroke-width="4"/>
<line x1="830" y1="380" x2="850" y2="380" stroke-width="4"/>
<line x1="78" y1="326" x2="67" y2="326" stroke-width="3"/>
<line x1="830" y1="326" x2="841" y2="326" stroke-width="3"/>
<line x1="78" y1="273" x2="67" y2="273" stroke-width="3"/>
<line x1="830" y1="273" x2="841" y2="273" stroke-width="3"/>
<line x1="78" y1="219" x2="67" y2="219" stroke-width="3"/>
<line x1="830" y1="219" x2="841" y2="219" stroke-width="3"/>
<line x1="78" y1="165" x2="58" y2="165" stroke-width="4"/>
<line x1="830" y1="165" x2="850" y2="165" stroke-width="4"/>
<line x1="78" y1="112" x2="67" y2="112" stroke-width="3"/>
<line x1="830" y1="112" x2="841" y2="112" stroke-width="3"/>
<line x1="78" y1="58" x2="67" y2="58" stroke-width="3"/>
<line x1="830" y1="58" x2="841" y2="58" stroke-width="3"/>
</g>
<g shape-rendering="crispEdges">
<rect x="123.00" y="668.0" width="39.44" height="48.0" fill="#ffffff"/>
<rect x="161.94" y="668.0" width="39.44" height="48.0" fill="#c0c0ff"/>
<rect x="200.88" y="668.0" width="39.44" height="48.0" fill="#8080ff"/>
<rect x="239.82" y="668.0" width="39.44" height="48.0" fill="#4040ff"/>
<rect x="278.76" y="668.0" width="39.44" height="48.0" fill="#0000ff"/>
<rect x="317.71" y="668.0" width="39.44" height="48.0" fill="#0028c8"/>
<rect x="356.65" y="668.0" width="39.44" height="48.0" fill="#005a8c"/>
<rect x="395.59" y="668.0" width="39.44" height="48.0" fill="#008250"/>
<rect x="434.53" y="668.0" width="39.44" height="48.0" fill="#0aaa14"/>
<rect x="473.47" y="668.0" width="39.44" height="48.0" fill="#3cbe0f"/>
<rect x="512.41" y="668.0" width="39.44" height="48.0" fill="#78d20a"/>
<rect x="551.35" y="668.0" width="39.44" height="48.0" fill="#b4e605"/>
<rect x="590.29" y="668.0" width="39.44" height="48.0" fill="#f5f500"/>
<rect x="629.24" y="668.0" width="39.44" height="48.0" fill="#ffc800"/>
<rect x="668.18" y="668.0" width="39.44" height="48.0" fill="#ff8200"/>
<rect x="707.12" y="668.0" width="39.44" height="48.0" fill="#ff4600"/>
<rect x="746.06" y="668.0" width="38.94" height="48.0" fill="#ff0a00"/>
<g stroke="#000" stroke-width="2.5" fill="none">
<line x1="161.9" y1="668.0" x2="161.9" y2="716.0"/>
<line x1="200.9" y1="668.0" x2="200.9" y2="716.0"/>
<line x1="239.8" y1="668.0" x2="239.8" y2="716.0"/>
<line x1="278.8" y1="668.0" x2="278.8" y2="716.0"/>
<line x1="317.7" y1="668.0" x2="317.7" y2="716.0"/>
<line x1="356.6" y1="668.0" x2="356.6" y2="716.0"/>
<line x1="395.6" y1="668.0" x2="395.6" y2="716.0"/>
<line x1="434.5" y1="668.0" x2="434.5" y2="716.0"/>
<line x1="473.5" y1="668.0" x2="473.5" y2="716.0"/>
<line x1="512.4" y1="668.0" x2="512.4" y2="716.0"/>
<line x1="551.4" y1="668.0" x2="551.4" y2="716.0"/>
<line x1="590.3" y1="668.0" x2="590.3" y2="716.0"/>
<line x1="629.2" y1="668.0" x2="629.2" y2="716.0"/>
<line x1="668.2" y1="668.0" x2="668.2" y2="716.0"/>
<line x1="707.1" y1="668.0" x2="707.1" y2="716.0"/>
<line x1="746.1" y1="668.0" x2="746.1" y2="716.0"/>
<rect x="123.0" y="668.0" width="662.0" height="48.0" stroke-width="2.5"/>
</g></g>
<g font-size="24.5" text-anchor="middle">
<text x="161.9" y="748.2">0</text>
<text x="200.9" y="748.2">1</text>
<text x="239.8" y="748.2">2</text>
<text x="278.8" y="748.2">3</text>
<text x="317.7" y="748.2">4</text>
<text x="356.6" y="748.2">5</text>
<text x="395.6" y="748.2">6</text>
<text x="434.5" y="748.2">7</text>
<text x="473.5" y="748.2">8</text>
<text x="512.4" y="748.2">9</text>
<text x="551.4" y="748.2">10</text>
<text x="590.3" y="748.2">11</text>
<text x="629.2" y="748.2">12</text>
<text x="668.2" y="748.2">13</text>
<text x="707.1" y="748.2">14</text>
<text x="746.1" y="748.2">15</text>
</g>
<text x="77" y="25" font-size="31">BB Col Age Distr Mode</text>
<text x="830.5" y="25" font-size="30.5" text-anchor="end">2018-10-17_03</text>
<text x="82" y="49" font-size="24">(days)</text>
<g font-size="24.3">
<text x="42.5" y="174" text-anchor="end">0</text>
<text x="42.5" y="389.5" text-anchor="end">20S</text>
<text x="42.5" y="604" text-anchor="end">40S</text>
<text x="78" y="649" text-anchor="middle">30W</text>
<text x="400.5" y="649" text-anchor="middle">0</text>
<text x="723" y="649" text-anchor="middle">30E</text>
</g>
</svg></body></html>
